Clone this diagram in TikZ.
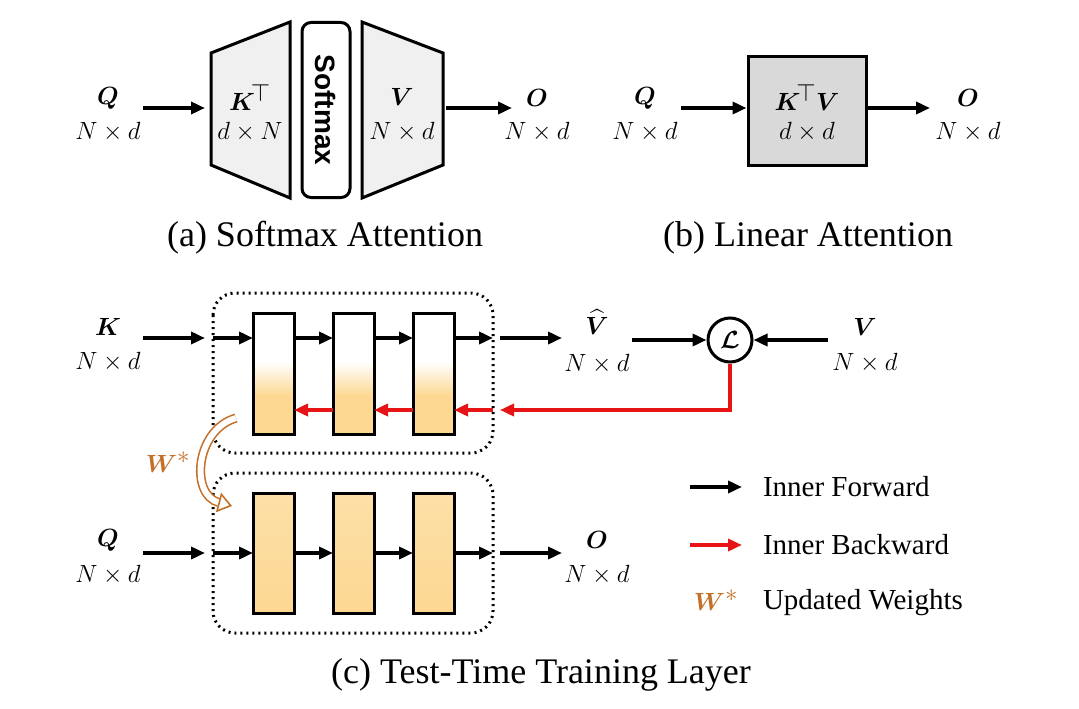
\documentclass[tikz,border=0pt]{standalone}
\usepackage{amsmath,bm}
\usepackage{fontspec}
\setmainfont{Liberation Serif}
\newfontfamily\arialfont{Liberation Sans}
\usetikzlibrary{arrows.meta,shapes.geometric}
\definecolor{wcolor}{RGB}{196,112,40}
\definecolor{ffill}{RGB}{252,216,146}
\definecolor{bred}{RGB}{230,20,20}
\tikzset{every picture/.style={line width=2pt}}
\tikzset{
  fwd/.style={-{Triangle[length=14pt,width=12pt]},line width=4pt},
  bwd/.style={fwd,draw=bred},
  sym/.style={inner sep=0pt,font=\fontsize{40}{40}\selectfont},
  dim/.style={inner sep=0pt,font=\fontsize{28}{28}\selectfont},
  caption/.style={inner sep=0pt,font=\fontsize{36}{36}\selectfont},
  legend/.style={anchor=west,inner sep=0pt,font=\fontsize{29}{29}\selectfont},
  layer/.style={draw,line width=3pt},
  group/.style={draw,line width=3pt,dash pattern=on 2pt off 4pt,rounded corners=22pt},
}
\begin{document}
\begin{tikzpicture}[x=1pt,y=1pt,yscale=-1,xscale=1]
\useasboundingbox (0,0) rectangle (1079,709);
% (a) softmax attention
\draw [layer,fill=gray!12] (211,53) -- (290,22) -- (290,198) -- (211,165) -- cycle;
\draw [layer,fill=gray!12] (362,22) -- (443,53) -- (443,165) -- (362,198) -- cycle;
\node (smax) [draw,layer,rounded corners=9pt,minimum width=48pt,minimum height=175pt] at (326,110) {};
\node [rotate=-90,font=\arialfont\bfseries\fontsize{28}{28}\selectfont] at (smax) {Softmax};
\node (qa) [sym] at (108,98) {$\bm{Q}$};
\node [dim] at (108,132) {$N\times d$};
\node (kt) [sym] at (250,97) {$\bm{K}^{\!\top}$};
\node [dim] at (250,132) {$d\times N$};
\node (va) [sym] at (402,97) {$\bm{V}$};
\node [dim] at (402,132) {$N\times d$};
\node (oa) [sym] at (537,98) {$\bm{O}$};
\node [dim] at (537,132) {$N\times d$};
\coordinate (ka) at (205,108); \coordinate (qae) at (143,108);
\coordinate (vae) at (446,108); \coordinate (oae) at (512,108);
\draw [fwd] (qae) -- (ka);
\draw [fwd] (vae) -- (oae);
\node [caption] at (325,238) {(a) Softmax Attention};
% (b) linear attention
\node (kv) [layer,fill=gray!30,minimum width=118pt,minimum height=108pt] at (807,111) {};
\node [sym] at (807,97) {$\bm{K}^{\!\top}\bm{V}$};
\node [dim] at (807,132) {$d\times d$};
\node (qb) [sym] at (645,98) {$\bm{Q}$};
\node [dim] at (645,132) {$N\times d$};
\node (ob) [sym] at (968,98) {$\bm{O}$};
\node [dim] at (968,132) {$N\times d$};
\coordinate (qbe) at (681,108); \coordinate (obe) at (930,108);
\draw [fwd] (qbe) -- (kv.west |- qbe);
\draw [fwd] (kv.east |- obe) -- (obe);
\node [caption] at (808,238) {(b) Linear Attention};
% (c) test-time training layer
\draw [group] (213,293) rectangle (493,453);
\draw [group] (213,473) rectangle (493,633);
\foreach \i/\x in {1/253,2/333,3/413}{
  \fill [white] (\x,313) rectangle ++(41,50);
  \shade [top color=white,bottom color=ffill] (\x,362) rectangle ++(41,34);
  \fill [ffill] (\x,395) rectangle ++(41,39);
  \draw [layer] (\x,313) rectangle ++(41,121);
  \coordinate (t\i w) at (\x,338); \coordinate (t\i e) at (\x+41,338);
  \coordinate (r\i w) at (\x,410); \coordinate (r\i e) at (\x+41,410);
  \shade [top color=ffill!80,bottom color=ffill] (\x,493) rectangle ++(41,120);
  \draw [layer] (\x,493) rectangle ++(41,120);
  \coordinate (b\i w) at (\x,553); \coordinate (b\i e) at (\x+41,553);
}
\node (k) [sym] at (108,327) {$\bm{K}$};
\node [dim] at (108,362) {$N\times d$};
\node (vh) [sym] at (597,322) {$\widehat{\bm{V}}$};
\node [dim] at (597,364) {$N\times d$};
\node (loss) [draw,circle,line width=3pt,minimum size=44pt,inner sep=0pt,font=\fontsize{32}{32}\selectfont] at (730,340) {$\bm{\mathcal{L}}$};
\node (v) [sym] at (865,327) {$\bm{V}$};
\node [dim] at (865,363) {$N\times d$};
\node (q) [sym] at (108,540) {$\bm{Q}$};
\node [dim] at (108,575) {$N\times d$};
\node (o) [sym] at (597,540) {$\bm{O}$};
\node [dim] at (597,575) {$N\times d$};
\coordinate (ke) at (143,338); \coordinate (gin) at (205,338); \coordinate (gwt) at (213,338);
\coordinate (gout) at (493,338); \coordinate (vhs) at (500,338); \coordinate (vhe) at (562,338);
\coordinate (ls) at (632,340); \coordinate (vs) at (828,340);
\draw [fwd] (ke) -- (gin);
\draw [fwd] (gwt) -- (t1w);
\draw [fwd] (t1e) -- (t2w);
\draw [fwd] (t2e) -- (t3w);
\draw [fwd] (t3e) -- (gout);
\draw [fwd] (vhs) -- (vhe);
\draw [fwd] (ls) -- (loss.west);
\draw [fwd] (vs) -- (loss.east);
\coordinate (rb) at (730,410); \coordinate (rin) at (500,410); \coordinate (rg) at (493,410);
\draw [bwd] (loss.south) -- (rb) -- (rin);
\draw [bwd] (rg) -- (r3e);
\draw [bwd] (r3w) -- (r2e);
\draw [bwd] (r2w) -- (r1e);
\coordinate (qe) at (143,553); \coordinate (qin) at (205,553); \coordinate (qwt) at (213,553);
\coordinate (qout) at (493,553); \coordinate (os) at (500,553); \coordinate (oe) at (562,553);
\draw [fwd] (qe) -- (qin);
\draw [fwd] (qwt) -- (b1w);
\draw [fwd] (b1e) -- (b2w);
\draw [fwd] (b2e) -- (b3w);
\draw [fwd] (b3e) -- (qout);
\draw [fwd] (os) -- (oe);
% updated weights
\node (w) [sym,text=wcolor] at (168,462) {$\bm{W}^{*}$};
\coordinate (ws) at (236,418); \coordinate (we) at (232,506);
\draw [wcolor,line width=1.6pt,double=white,double distance=6pt,-{Triangle[open,length=14pt,width=20pt]}] (ws) .. controls (195,430) and (190,495) .. (we);
\node [caption] at (541,675) {(c) Test-Time Training Layer};
% legend
\coordinate (lf1) at (690,487); \coordinate (lf2) at (742,487);
\coordinate (lb1) at (690,545); \coordinate (lb2) at (742,545);
\draw [fwd] (lf1) -- (lf2);
\draw [bwd] (lb1) -- (lb2);
\node [legend] at (762,487) {Inner Forward};
\node [legend] at (762,545) {Inner Backward};
\node [sym,text=wcolor] at (716,600) {$\bm{W}^{*}$};
\node [legend] at (762,603) {Updated Weights};
\end{tikzpicture}
\end{document}
